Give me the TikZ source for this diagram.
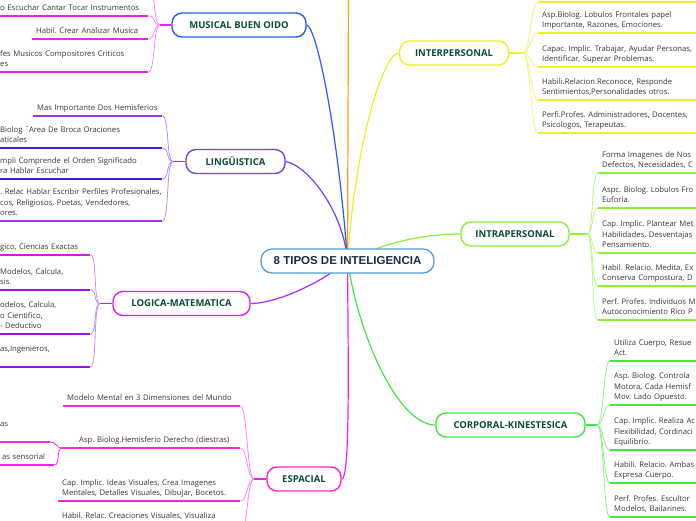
\documentclass[tikz,border=0pt]{standalone}
\usepackage{fontspec}
\setmainfont{Open Sans}
\newfontfamily\hubfont{Liberation Sans}
\newfontfamily\markfont{DejaVu Sans}
\usepackage{tikz}
\usetikzlibrary{backgrounds}
\frenchspacing
\definecolor{titleink}{HTML}{0B4A3C}
\definecolor{leafink}{HTML}{363636}
\definecolor{hubline}{HTML}{4E9FDC}
\definecolor{hubink}{HTML}{1B2A48}
\definecolor{orangeln}{HTML}{FF9A1A}
\definecolor{musical}{HTML}{2A5BF0}
\definecolor{musleaf}{HTML}{EE22EE}
\definecolor{musbrk}{HTML}{FF88FF}
\definecolor{ling}{HTML}{7040F0}
\definecolor{lingleaf}{HTML}{9933EE}
\definecolor{lingleafb}{HTML}{3A1ED8}
\definecolor{lingbrk}{HTML}{B28CFF}
\definecolor{logic}{HTML}{E020E8}
\definecolor{logicln}{HTML}{B026FF}
\definecolor{logicleaf}{HTML}{9A10EE}
\definecolor{logicleafm}{HTML}{DD10EE}
\definecolor{logicbrk}{HTML}{CC88FF}
\definecolor{espacial}{HTML}{FF22DD}
\definecolor{espbrk}{HTML}{FF88EE}
\definecolor{inter}{HTML}{F0F020}
\definecolor{interbrk}{HTML}{F4F47A}
\definecolor{intra}{HTML}{8CF03A}
\definecolor{intrabrk}{HTML}{B8F880}
\definecolor{corp}{HTML}{3EE83E}
\definecolor{corpbrk}{HTML}{8AF08A}

\begin{document}
\begin{tikzpicture}[
  x=1pt, y=-1pt,
  hub/.style={draw=hubline, line width=1.3pt, rounded corners=11pt, fill=white, minimum width=173pt, minimum height=24pt, font=\hubfont\bfseries\fontsize{11.5}{13}\selectfont, text=hubink},
  branch/.style={line width=1.4pt, rounded corners=10pt, fill=white, minimum height=24pt, inner xsep=4pt, font=\bfseries\fontsize{9.5}{11}\selectfont, text=titleink},
  leaf/.style={anchor=south west, align=left, inner xsep=4pt, inner ysep=2pt, font=\fontsize{7.7}{10.5}\selectfont, text=leafink, execute at end node=\strut},
  link/.style={line width=1.2pt},
  uline/.style={line width=1.5pt},
  brk/.style={line width=0.8pt}
]
\useasboundingbox (0,0) rectangle (696,520);
\clip (0,0) rectangle (696,520);

% centre and branches
\node[hub] (hub) at (347.5,261) {8 TIPOS DE INTELIGENCIA};
\node[branch, draw=musical, minimum width=134pt] (mus) at (239,25) {MUSICAL BUEN OIDO};
\node[branch, draw=ling, minimum width=99pt] (ling) at (235.5,161.5) {LINGÜISTICA};
\node[branch, draw=logic, minimum width=137pt] (logic) at (181.5,303.5) {LOGICA-MATEMATICA};
\node[branch, draw=espacial, minimum width=74pt] (esp) at (304,479) {ESPACIAL};
\node[branch, draw=inter, minimum width=109pt] (inter) at (454,53) {INTERPERSONAL};
\node[branch, draw=intra, minimum width=108pt] (intra) at (515,234) {INTRAPERSONAL};
\node[branch, draw=corp, minimum width=149pt] (corp) at (510.5,425) {CORPORAL-KINESTESICA};
\coordinate (top) at (348.5,-10);

% junctions
\coordinate (musj) at (160,25);
\coordinate (lingj) at (173,161.5);
\coordinate (logicj) at (100,303.5);
\coordinate (espj) at (254,479);
\coordinate (espsubj) at (62,448);
\coordinate (interj) at (523,53);
\coordinate (intraj) at (587,234);
\coordinate (corpj) at (597,425);

% musical
\coordinate (mus0) at (148,-20);
\node[leaf, text width=144pt] (mus1) at (-4,16) {o Escuchar Cantar Tocar Instrumentos};
\node[leaf, text width=108pt] (mus2) at (32,39) {Habil. Crear Analizar Musica};
\node[leaf, text width=144pt] (mus3) at (-4,72) {fes Musicos Compositores Criticos\\es};

% linguistica
\node[leaf, text width=121pt] (ling1) at (33,116) {\mbox{Mas Importante Dos Hemisferios}};
\node[leaf, text width=158pt] (ling2) at (-4,148) {Biolog {\markfont\char"A8}Area De Broca Oraciones\\aticales};
\node[leaf, text width=158pt] (ling3) at (-4,179) {mpli Comprende el Orden Significado\\ra Hablar Escuchar};
\node[leaf, text width=158pt] (ling4) at (-4,221) {\mbox{. Relac Hablar Escribir Perfiles Profesionales,}\\cos, Religiosos, Poetas, Vendedores,\\ores.};

% logica
\node[leaf, text width=86pt] (logic1) at (-4,255) {gico, Ciencias Exactas};
\node[leaf, text width=86pt] (logic2) at (-4,290) {Modelos, Calcula,\\sis.};
\node[leaf, text width=86pt] (logic3) at (-4,334) {odelos, Calcula,\\o Cientifico,\\- Deductivo};
\node[leaf, text width=86pt] (logic4) at (-4,367) {as,Ingenieros,\\\mbox{}};

% espacial
\node[leaf, text width=169pt] (esp1) at (63,406) {Modelo Mental en 3 Dimensiones del Mundo};
\node[leaf, text width=157pt] (esp2) at (75,448) {Asp. Biolog.Hemisferio Derecho (diestras)};
\node[leaf, text width=174pt] (esp3) at (58,501) {Cap. Implic. Ideas Visuales, Crea Imagenes\\Mentales, Detalles Visuales, Dibujar, Bocetos.};
\node[leaf, text width=174pt] (esp4) at (58,534) {Habil. Relac. Creaciones Visuales, Visualiza\\\mbox{}};
\node[leaf, text width=46pt] (espa) at (-4,442) {as\\\mbox{}};
\node[leaf, text width=48pt] (espb) at (-2,465) {as sensorial};

% interpersonal
\node[leaf, text width=200pt] (inter0) at (538,2) {};
\node[leaf, text width=200pt] (inter1) at (538,33) {Asp.Biolog. Lobulos Frontales papel\\Importante, Razones, Emociones.};
\node[leaf, text width=200pt] (inter2) at (538,67) {Capac. Implic. Trabajar, Ayudar Personas,\\Identificar, Superar Problemas.};
\node[leaf, text width=200pt] (inter3) at (538,100) {Habili.Relacion.Reconoce, Responde\\Sentimientos,Personalidades otros.};
\node[leaf, text width=200pt] (inter4) at (538,133) {Perfi.Profes. Administradores, Docentes,\\Psicologos, Terapeutas.};

% intrapersonal
\node[leaf, text width=200pt] (intra1) at (598,173) {Forma Imagenes de Nos\\Defectos, Necesidades, C};
\node[leaf, text width=200pt] (intra2) at (598,208) {Aspc. Biolog. Lobulos Fro\\Euforia.};
\node[leaf, text width=200pt] (intra3) at (598,253) {Cap. Implic. Plantear Met\\Habilidades, Desventajas\\Pensamiento.};
\node[leaf, text width=200pt] (intra4) at (598,286) {Habil. Relacio. Medita, Ex\\Conserva Compostura, D};
\node[leaf, text width=200pt] (intra5) at (598,320) {Perf. Profes. Individuos M\\Autoconocimiento Rico P};

% corporal
\node[leaf, text width=200pt] (corp1) at (610,361) {Utiliza Cuerpo, Resue\\Act.};
\node[leaf, text width=200pt] (corp2) at (610,405) {Asp. Biolog. Controla\\Motora, Cada Hemisf\\Mov. Lado Opuesto.};
\node[leaf, text width=200pt] (corp3) at (610,450) {Cap. Implic. Realiza Ac\\Flexibilidad, Cordinaci\\Equilibrio.};
\node[leaf, text width=200pt] (corp4) at (610,483) {Habili. Relacio. Ambas\\Expresa Cuerpo.};
\node[leaf, text width=200pt] (corp5) at (610,517) {Perf. Profes. Escultor\\Modelos, Bailarines.};

\begin{scope}[on background layer]
\fill[white] (0,0) rectangle (696,520);
% main links
\draw[link, orangeln] (hub.center) -- (top);
\draw[link, musical] (hub.center) .. controls +(-9.5,-130) and +(10,2) .. (mus.east);
\draw[link, ling] (hub.center) .. controls +(-4,-50) and +(22,4) .. (ling.east);
\draw[link, logicln] (hub.center) .. controls +(-28,23) and +(25,0) .. (logic.east);
\draw[link, espacial] (hub.center) .. controls +(1,120) and +(8,0) .. (esp.east);
\draw[link, inter] (hub.center) .. controls +(8,-121) and +(-15,0) .. (inter.west);
\draw[link, intra] (hub.center) .. controls +(42,-21) and +(-31,0) .. (intra.west);
\draw[link, corp] (hub.center) .. controls +(12,79) and +(-36,0) .. (corp.west);

% branch to junction
\draw[link, musleaf] (mus.west) -- (musj);
\draw[link, lingleaf] (ling.west) -- (lingj);
\draw[link, logicleafm] (logic.west) -- (logicj);
\draw[link, espacial] (esp.west) -- (espj);
\draw[link, espacial] (esp2.south west) -- (espsubj);
\draw[link, inter] (inter.east) -- (interj);
\draw[link, intra] (intra.east) -- (intraj);
\draw[link, corp] (corp.east) -- (corpj);

% brackets, left side
\draw[brk, musbrk] (musj) .. controls +(-7,0) and +(7,0) .. (mus0);
\foreach \l in {mus1,mus2,mus3}
  \draw[brk, musbrk] (musj) .. controls +(-7,0) and +(7,0) .. (\l.south east);
\foreach \l in {ling1,ling2,ling3,ling4}
  \draw[brk, lingbrk] (lingj) .. controls +(-7,0) and +(7,0) .. (\l.south east);
\foreach \l in {logic1,logic2,logic3,logic4}
  \draw[brk, logicbrk] (logicj) .. controls +(-7,0) and +(7,0) .. (\l.south east);
\foreach \l in {esp1,esp2,esp3,esp4}
  \draw[brk, espbrk] (espj) .. controls +(-7,0) and +(7,0) .. (\l.south east);
\foreach \l in {espa,espb}
  \draw[brk, espacial] (espsubj) .. controls +(-6,0) and +(6,0) .. (\l.south east);

% brackets, right side
\foreach \l in {inter0,inter1,inter2,inter3,inter4}
  \draw[brk, interbrk] (interj) .. controls +(7,0) and +(-7,0) .. (\l.south west);
\foreach \l in {intra1,intra2,intra3,intra4,intra5}
  \draw[brk, intrabrk] (intraj) .. controls +(7,0) and +(-7,0) .. (\l.south west);
\foreach \l in {corp1,corp2,corp3,corp4,corp5}
  \draw[brk, corpbrk] (corpj) .. controls +(7,0) and +(-7,0) .. (\l.south west);

% underlines
\foreach \l/\c in {mus1/musleaf,mus2/musleaf,mus3/musleaf,
    ling1/lingleaf,ling2/lingleafb,ling3/lingleafb,ling4/lingleaf,
    logic1/logicleafm,logic2/logicleaf,logic3/logicleaf,logic4/logicleaf,
    esp1/espacial,esp2/espacial,esp3/espacial,esp4/espacial,espa/espacial,espb/espacial,
    inter0/inter,inter1/inter,inter2/inter,inter3/inter,inter4/inter,
    intra1/intra,intra2/intra,intra3/intra,intra4/intra,intra5/intra,
    corp1/corp,corp2/corp,corp3/corp,corp4/corp,corp5/corp}
  \draw[uline, \c] (\l.south west) -- (\l.south east);
\end{scope}
\end{tikzpicture}
\end{document}
